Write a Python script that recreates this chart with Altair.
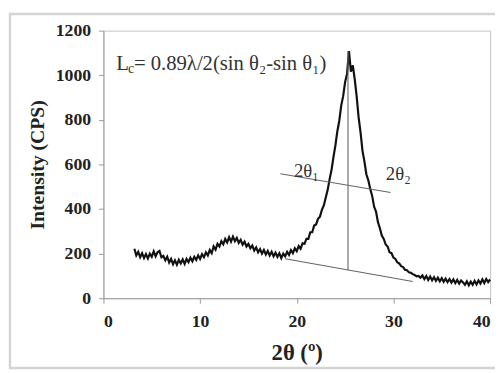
import altair as alt
import pandas as pd

# XRD pattern: 2-theta from 3.2 to 40.0 deg, step 0.2
two_theta_start = 3.2
two_theta_step = 0.2
intensity = [
    222, 192, 208, 184, 202,
    180, 198, 178, 200, 186,
    210, 188, 206, 212, 184,
    190, 170, 186, 160, 176,
    152, 170, 150, 172, 156,
    174, 154, 176, 162, 182,
    166, 186, 172, 192, 176,
    198, 184, 206, 192, 216,
    202, 232, 218, 244, 232,
    256, 242, 266, 250, 274,
    254, 276, 256, 270, 248,
    262, 240, 254, 232, 244,
    224, 236, 214, 228, 206,
    220, 200, 216, 196, 212,
    192, 208, 188, 204, 186,
    202, 180, 200, 188, 208,
    194, 216, 202, 224, 211,
    234, 222, 246, 244, 266,
    266, 296, 296, 326, 331,
    356, 366, 396, 416, 452,
    486, 534, 576, 634, 686,
    749, 796, 864, 906, 969,
    1006, 1108, 1016, 1044, 981,
    904, 811, 744, 661, 614,
    556, 529, 491, 459, 411,
    389, 341, 314, 281, 266,
    241, 232, 206, 202, 182,
    176, 161, 156, 144, 140,
    128, 126, 116, 114, 108,
    104, 98, 100, 92, 102,
    86, 100, 82, 97, 80,
    94, 78, 92, 76, 90,
    74, 88, 72, 86, 70,
    84, 68, 82, 66, 80,
    71, 60, 76, 58, 74,
    60, 78, 62, 80, 66,
    84, 68, 86, 72, 84,
]
two_theta = [round(two_theta_start + two_theta_step * i, 1) for i in range(len(intensity))]

# construction lines (baseline, peak height, half-height width)
seg_x1 = [18.8, 25.3, 18.3]
seg_y1 = [177, 125, 558]
seg_x2 = [32.0, 25.3, 29.7]
seg_y2 = [75, 1107, 474]

# labels
lab_text = ["2θ\u2081", "2θ\u2082"]
lab_x = [21.0, 30.5]
lab_y = [572, 556]

formula_x = 1.32
formula_y = 1040

x_ticks = [0, 10, 20, 30, 40]
y_ticks = [0, 200, 400, 600, 800, 1000, 1200]

FONT = "Liberation Serif"

curve_df = pd.DataFrame({"x": two_theta, "y": intensity})
seg_df = pd.DataFrame({"x": seg_x1, "y": seg_y1, "x2": seg_x2, "y2": seg_y2})
lab_df = pd.DataFrame({"x": lab_x, "y": lab_y, "t": lab_text})
form_df = pd.DataFrame({"x": [formula_x], "y": [formula_y]})

xs = alt.Scale(domain=[0, 40], nice=False)
ys = alt.Scale(domain=[0, 1200], nice=False)

x_axis = alt.Axis(values=x_ticks, title="2θ (º)", grid=False, format="d")
y_axis = alt.Axis(values=y_ticks, title="Intensity (CPS)", grid=False, format="d")

frame = alt.Chart(form_df).mark_rect(
    fill=None, stroke="#d4d4d4", strokeWidth=2.5
).encode(
    x=alt.value(-95), x2=alt.value(420), y=alt.value(-17), y2=alt.value(343)
)

curve = alt.Chart(curve_df).mark_line(color="#111111", strokeWidth=2.2).encode(
    x=alt.X("x:Q", scale=xs, axis=x_axis),
    y=alt.Y("y:Q", scale=ys, axis=y_axis),
)

segs = alt.Chart(seg_df).mark_rule(color="#666666", strokeWidth=1.1).encode(
    x="x:Q", y="y:Q", x2="x2:Q", y2="y2:Q"
)

labels = alt.Chart(lab_df).mark_text(
    font=FONT, fontSize=19, color="#333333", align="center", baseline="middle"
).encode(x="x:Q", y="y:Q", text="t:N")

f_L = alt.Chart(form_df).mark_text(
    font=FONT, fontSize=21, color="#333333", align="left", baseline="alphabetic", dy=4
).encode(x="x:Q", y="y:Q", text=alt.value("L"))
f_c = alt.Chart(form_df).mark_text(
    font=FONT, fontSize=14, color="#333333", align="left", baseline="alphabetic", dx=12, dy=7
).encode(x="x:Q", y="y:Q", text=alt.value("c"))
f_rest = alt.Chart(form_df).mark_text(
    font=FONT, fontSize=21, color="#333333", align="left", baseline="alphabetic", dx=18, dy=4
).encode(x="x:Q", y="y:Q", text=alt.value("= 0.89λ/2(sin θ\u2082-sin θ\u2081)"))

chart = alt.layer(frame, curve, segs, labels, f_L, f_c, f_rest).properties(
    width=393,
    height=272,
    autosize=alt.AutoSizeParams(type="none"),
    padding={"left": 97, "top": 20, "right": 5, "bottom": 73},
).configure_view(
    stroke="#c4c4c4", strokeWidth=1
).configure_axis(
    labelFont=FONT, labelFontWeight="bold", labelFontSize=18, labelColor="#222222",
    titleFont=FONT, titleFontWeight="bold", titleColor="#222222",
    domainColor="#9a9a9a", tickColor="#9a9a9a", tickSize=5,
).configure_axisX(
    titleFontSize=23, titlePadding=11, labelPadding=10,
).configure_axisY(
    titleFontSize=20, titlePadding=8, labelPadding=8,
)

chart.save("out.html", embed_options={"renderer": "svg", "actions": False})
